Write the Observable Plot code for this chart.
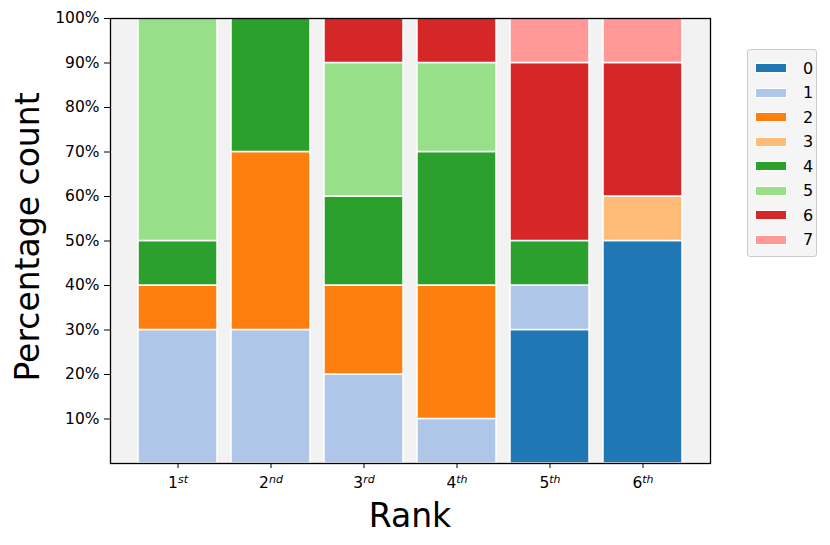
<!DOCTYPE html>
<html>
<head>
<meta charset="utf-8">
<script src="https://cdn.jsdelivr.net/npm/d3@7"></script>
<script src="https://cdn.jsdelivr.net/npm/@observablehq/plot@0.6"></script>
<style>
  body { margin: 0; background: #fff; font-family: "DejaVu Sans", sans-serif; }
  #wrap { position: relative; width: 830px; height: 545px; }
  #legend { position: absolute; left: 747px; top: 49px; width: 70px; padding: 6px 0 4px 0;
            border: 1px solid #cccccc; border-radius: 3px; background: #f5f5f5; box-sizing: border-box; }
  .row { display: flex; align-items: center; height: 24.5px; }
  .sw { width: 32px; height: 10px; margin-left: 7px; box-sizing: border-box; border: 1px solid #fff; }
  .lab { margin-left: 16px; font-size: 16px; color: #000; }
</style>
</head>
<body>
<div id="wrap"></div>
<script>
const ranks = ["1", "2", "3", "4", "5", "6"];
const suffixes = ["st", "nd", "rd", "th", "th", "th"];
const categories = ["0", "1", "2", "3", "4", "5", "6", "7"];
const colors = ["#1f77b4", "#aec7e8", "#ff7f0e", "#ffbb78", "#2ca02c", "#98df8a", "#d62728", "#ff9896"];
// percentage per category across ranks 1st..6th
const cat0 = [0, 0, 0, 0, 30, 50];
const cat1 = [30, 30, 20, 10, 10, 0];
const cat2 = [10, 40, 20, 30, 0, 0];
const cat3 = [0, 0, 0, 0, 0, 10];
const cat4 = [10, 30, 20, 30, 10, 0];
const cat5 = [50, 0, 30, 20, 0, 0];
const cat6 = [0, 0, 10, 10, 40, 30];
const cat7 = [0, 0, 0, 0, 10, 10];
const yTicks = [10, 20, 30, 40, 50, 60, 70, 80, 90, 100];

const series = [cat0, cat1, cat2, cat3, cat4, cat5, cat6, cat7];
const rows = [];
series.forEach((vals, ci) => vals.forEach((v, ri) => {
  if (v > 0) rows.push({rank: ranks[ri], cat: categories[ci], value: v, order: ci});
}));

const chart = Plot.plot({
  width: 830,
  height: 545,
  marginLeft: 110,
  marginRight: 120,
  marginTop: 18,
  marginBottom: 82,
  style: {fontFamily: "DejaVu Sans, sans-serif", fontSize: "15px", color: "#000", background: "#fff"},
  x: {type: "band", domain: ranks, paddingInner: 0.15, paddingOuter: 0.3, label: null},
  y: {domain: [0, 100], label: null},
  color: {domain: categories, range: colors},
  marks: [
    Plot.frame({fill: "#f2f2f2", stroke: null}),
    Plot.barY(rows, {x: "rank", y: "value", fill: "cat", order: "order", stroke: "white", strokeWidth: 1.5}),
    Plot.axisY({ticks: yTicks, tickFormat: d => d + "%", tickSize: 6, tickPadding: 5, label: null, fontSize: 15.5}),
    Plot.axisX({tickSize: 5, tickPadding: 8, label: null, fontSize: 15.5}),
    Plot.frame({stroke: "#000", strokeWidth: 1.3})
  ]
});

document.getElementById("wrap").appendChild(chart);
const svg = d3.select(chart);

// superscript ordinal suffixes on x tick labels
svg.selectAll('g[aria-label="x-axis tick label"] text').each(function() {
  const t = d3.select(this);
  const s = t.text();
  const i = ranks.indexOf(s);
  t.text(null);
  t.append("tspan").text(s);
  t.append("tspan").attr("dy", "-0.4em").attr("font-size", "11px").attr("font-style", "italic").text(suffixes[i]);
});

// axis titles
svg.append("text").attr("x", 410).attr("y", 527).attr("text-anchor", "middle")
  .attr("font-size", "33px").attr("fill", "#000").text("Rank");
svg.append("text").attr("transform", "translate(39,237) rotate(-90)").attr("text-anchor", "middle")
  .attr("font-size", "33px").attr("fill", "#000").text("Percentage count");

// legend
const legend = document.createElement("div");
legend.id = "legend";
categories.forEach((c, i) => {
  const row = document.createElement("div");
  row.className = "row";
  const sw = document.createElement("div");
  sw.className = "sw";
  sw.style.background = colors[i];
  const lab = document.createElement("div");
  lab.className = "lab";
  lab.textContent = c;
  row.appendChild(sw); row.appendChild(lab);
  legend.appendChild(row);
});
document.getElementById("wrap").appendChild(legend);
</script>
</body>
</html>
